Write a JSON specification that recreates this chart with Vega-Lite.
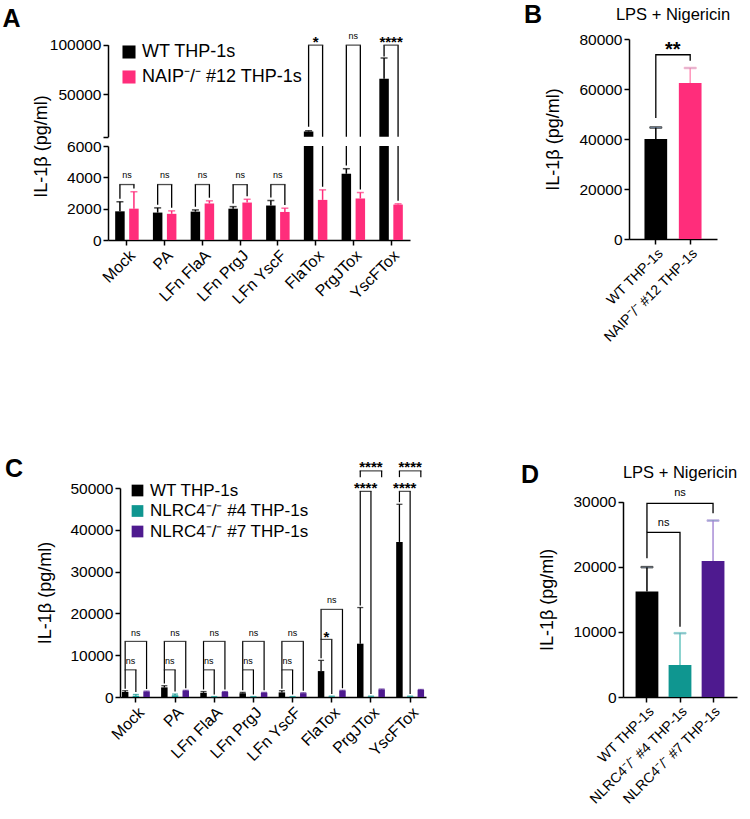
{
  "$schema": "https://vega.github.io/schema/vega-lite/v6.json",
  "background": "white",
  "padding": {"left": 2, "top": 2, "right": 0, "bottom": 0},
  "align": "none",
  "resolve": {"scale": {"color": "independent", "stroke": "independent"}, "legend": {"color": "independent"}},
  "config": {
    "font": "Liberation Sans",
    "view": {"stroke": null},
    "axis": {"domainColor": "#000", "domainWidth": 1.5, "tickColor": "#000", "tickWidth": 1.5, "tickSize": 5, "labelColor": "#000", "labelFontSize": 15.5, "titleColor": "#000", "titleFontSize": 18, "titleFontWeight": "normal", "grid": false, "labelPadding": 2},
    "axisY": {"format": "d"},
    "axisX": {"labelFontSize": 16, "labelAngle": -45, "title": null},
    "legend": {"labelColor": "#000", "symbolType": "square", "title": null, "symbolStrokeWidth": 0, "labelLimit": 400},
    "title": {"color": "#000"}
  },
  "datasets": {
    "a": [
      {"cat": "Mock", "grp": "WT", "mean": 1830, "hi": 2440},
      {"cat": "Mock", "grp": "NAIP", "mean": 2000, "hi": 3080},
      {"cat": "PA", "grp": "WT", "mean": 1750, "hi": 2050},
      {"cat": "PA", "grp": "NAIP", "mean": 1670, "hi": 1860},
      {"cat": "LFn FlaA", "grp": "WT", "mean": 1810, "hi": 1920},
      {"cat": "LFn FlaA", "grp": "NAIP", "mean": 2330, "hi": 2500},
      {"cat": "LFn PrgJ", "grp": "WT", "mean": 2000, "hi": 2130},
      {"cat": "LFn PrgJ", "grp": "NAIP", "mean": 2390, "hi": 2600},
      {"cat": "LFn YscF", "grp": "WT", "mean": 2200, "hi": 2520},
      {"cat": "LFn YscF", "grp": "NAIP", "mean": 1790, "hi": 2030},
      {"cat": "FlaTox", "grp": "WT", "mean": 12200, "hi": 13000},
      {"cat": "FlaTox", "grp": "NAIP", "mean": 2560, "hi": 3200},
      {"cat": "PrgJTox", "grp": "WT", "mean": 4230, "hi": 4550},
      {"cat": "PrgJTox", "grp": "NAIP", "mean": 2650, "hi": 3030},
      {"cat": "YscFTox", "grp": "WT", "mean": 65500, "hi": 86500},
      {"cat": "YscFTox", "grp": "NAIP", "mean": 2260, "hi": 2310}
    ],
    "ab": [
      {"cat": "Mock", "top": 3540, "left": 2640, "right": 3280},
      {"cat": "PA", "top": 3540, "left": 2250, "right": 2060},
      {"cat": "LFn FlaA", "top": 3540, "left": 2120, "right": 2700},
      {"cat": "LFn PrgJ", "top": 3540, "left": 2330, "right": 2800},
      {"cat": "LFn YscF", "top": 3540, "left": 2720, "right": 2230},
      {"cat": "FlaTox", "top": 99500, "left": 17000, "right": 3400},
      {"cat": "PrgJTox", "top": 99500, "left": 4750, "right": 3230},
      {"cat": "YscFTox", "top": 99500, "left": 88100, "right": 2510}
    ],
    "at": [
      {"cat": "Mock", "y": 3930, "label": "ns"},
      {"cat": "PA", "y": 3930, "label": "ns"},
      {"cat": "LFn FlaA", "y": 3930, "label": "ns"},
      {"cat": "LFn PrgJ", "y": 3930, "label": "ns"},
      {"cat": "LFn YscF", "y": 3930, "label": "ns"},
      {"cat": "FlaTox", "y": 98000, "label": "*"},
      {"cat": "PrgJTox", "y": 106100, "label": "ns"},
      {"cat": "YscFTox", "y": 98000, "label": "****"}
    ],
    "b": [
      {"grp": "WT", "mean": 40000, "hi": 44600},
      {"grp": "NAIP", "mean": 62400, "hi": 68400}
    ],
    "bb": [
      {"k": 1, "grp": "WT", "y": 48400}, {"k": 2, "grp": "WT", "y": 73700}, {"k": 3, "grp": "NAIP", "y": 73700}, {"k": 4, "grp": "NAIP", "y": 71300}
    ],
    "bt": [{"grp": "WT", "y": 73080, "label": "**"}],
    "c": [
      {"cat": "Mock", "grp": "WT", "mean": 1200, "hi": 1500}, {"cat": "Mock", "grp": "KO4", "mean": 300, "hi": 600}, {"cat": "Mock", "grp": "KO7", "mean": 1300, "hi": 1400},
      {"cat": "PA", "grp": "WT", "mean": 2300, "hi": 2700}, {"cat": "PA", "grp": "KO4", "mean": 400, "hi": 700}, {"cat": "PA", "grp": "KO7", "mean": 1500, "hi": 1600},
      {"cat": "LFn FlaA", "grp": "WT", "mean": 1000, "hi": 1300}, {"cat": "LFn FlaA", "grp": "KO4", "mean": 50, "hi": 100}, {"cat": "LFn FlaA", "grp": "KO7", "mean": 1200, "hi": 1300},
      {"cat": "LFn PrgJ", "grp": "WT", "mean": 900, "hi": 1100}, {"cat": "LFn PrgJ", "grp": "KO4", "mean": 50, "hi": 100}, {"cat": "LFn PrgJ", "grp": "KO7", "mean": 1000, "hi": 1100},
      {"cat": "LFn YscF", "grp": "WT", "mean": 1100, "hi": 1500}, {"cat": "LFn YscF", "grp": "KO4", "mean": 50, "hi": 100}, {"cat": "LFn YscF", "grp": "KO7", "mean": 900, "hi": 1000},
      {"cat": "FlaTox", "grp": "WT", "mean": 6200, "hi": 8760}, {"cat": "FlaTox", "grp": "KO4", "mean": 100, "hi": 200}, {"cat": "FlaTox", "grp": "KO7", "mean": 1500, "hi": 1600},
      {"cat": "PrgJTox", "grp": "WT", "mean": 12750, "hi": 21400}, {"cat": "PrgJTox", "grp": "KO4", "mean": 100, "hi": 200}, {"cat": "PrgJTox", "grp": "KO7", "mean": 1800, "hi": 1900},
      {"cat": "YscFTox", "grp": "WT", "mean": 37100, "hi": 46100}, {"cat": "YscFTox", "grp": "KO4", "mean": 100, "hi": 200}, {"cat": "YscFTox", "grp": "KO7", "mean": 1700, "hi": 1800}
    ],
    "cb": [
      {"cat": "Mock", "cmp": "4", "top": 6500, "left": 2000, "right": 1200},
      {"cat": "PA", "cmp": "4", "top": 6500, "left": 3200, "right": 1300},
      {"cat": "LFn FlaA", "cmp": "4", "top": 6500, "left": 1800, "right": 600},
      {"cat": "LFn PrgJ", "cmp": "4", "top": 6500, "left": 1600, "right": 600},
      {"cat": "LFn YscF", "cmp": "4", "top": 6500, "left": 2000, "right": 600},
      {"cat": "FlaTox", "cmp": "4", "top": 13780, "left": 9260, "right": 700},
      {"cat": "PrgJTox", "cmp": "4", "top": 49200, "left": 21900, "right": 700},
      {"cat": "YscFTox", "cmp": "4", "top": 49200, "left": 46600, "right": 700},
      {"cat": "Mock", "cmp": "7", "top": 13300, "left": 6500, "right": 1900},
      {"cat": "PA", "cmp": "7", "top": 13300, "left": 6500, "right": 2100},
      {"cat": "LFn FlaA", "cmp": "7", "top": 13300, "left": 6500, "right": 1800},
      {"cat": "LFn PrgJ", "cmp": "7", "top": 13300, "left": 6500, "right": 1600},
      {"cat": "LFn YscF", "cmp": "7", "top": 13300, "left": 6500, "right": 1500},
      {"cat": "FlaTox", "cmp": "7", "top": 20960, "left": 13780, "right": 2100},
      {"cat": "PrgJTox", "cmp": "7", "top": 54100, "left": 52600, "right": 52600},
      {"cat": "YscFTox", "cmp": "7", "top": 54100, "left": 52600, "right": 52600}
    ],
    "ct": [
      {"cat": "Mock", "cmp": "4", "y": 7820, "label": "ns"}, {"cat": "Mock", "cmp": "7", "y": 14590, "label": "ns"},
      {"cat": "PA", "cmp": "4", "y": 7820, "label": "ns"}, {"cat": "PA", "cmp": "7", "y": 14590, "label": "ns"},
      {"cat": "LFn FlaA", "cmp": "4", "y": 7820, "label": "ns"}, {"cat": "LFn FlaA", "cmp": "7", "y": 14590, "label": "ns"},
      {"cat": "LFn PrgJ", "cmp": "4", "y": 7820, "label": "ns"}, {"cat": "LFn PrgJ", "cmp": "7", "y": 14590, "label": "ns"},
      {"cat": "LFn YscF", "cmp": "4", "y": 7820, "label": "ns"}, {"cat": "LFn YscF", "cmp": "7", "y": 14590, "label": "ns"},
      {"cat": "FlaTox", "cmp": "4", "y": 13060, "label": "*"}, {"cat": "FlaTox", "cmp": "7", "y": 22420, "label": "ns"},
      {"cat": "PrgJTox", "cmp": "4", "y": 48780, "label": "****"}, {"cat": "PrgJTox", "cmp": "7", "y": 53730, "label": "****"},
      {"cat": "YscFTox", "cmp": "4", "y": 48780, "label": "****"}, {"cat": "YscFTox", "cmp": "7", "y": 53730, "label": "****"}
    ],
    "d": [
      {"grp": "WT", "mean": 16200, "hi": 19950},
      {"grp": "KO4", "mean": 4900, "hi": 9800},
      {"grp": "KO7", "mean": 20900, "hi": 27100}
    ],
    "db": [
      {"id": "o", "k": 1, "grp": "WT", "y": 25300}, {"id": "o", "k": 2, "grp": "WT", "y": 29750}, {"id": "o", "k": 3, "grp": "KO7", "y": 29750}, {"id": "o", "k": 4, "grp": "KO7", "y": 28220},
      {"id": "i", "k": 1, "grp": "WT", "y": 21300}, {"id": "i", "k": 2, "grp": "WT", "y": 25300}, {"id": "i", "k": 3, "grp": "KO4", "y": 25300}, {"id": "i", "k": 4, "grp": "KO4", "y": 10800}
    ],
    "dt": [
      {"grp": "KO4", "cmp": "7", "y": 30840, "label": "ns"},
      {"grp": "WT", "cmp": "4", "y": 26240, "label": "ns"}
    ]
  },
  "vconcat": [
    {
      "align": "none",
      "resolve": {"scale": {"color": "independent", "stroke": "independent"}, "legend": {"color": "independent"}},
      "hconcat": [
        {
          "title": {"text": "A", "anchor": "start", "frame": "bounds", "fontSize": 25, "fontWeight": "bold", "dx": -30, "offset": 0},
          "spacing": 9,
          "bounds": "flush",
          "resolve": {"scale": {"color": "independent", "y": "independent"}, "axis": {"y": "independent"}, "legend": {"color": "independent"}},
          "vconcat": [
            {
              "width": 302,
              "height": 97.7,
              "layer": [
                {
                  "data": {"name": "a"},
                  "transform": [{"filter": "datum.grp == 'WT'"}],
                  "mark": {"type": "bar", "clip": true, "width": 9.5, "xOffset": -7},
                  "encoding": {
                    "x": {"field": "cat", "type": "nominal", "scale": {"domain": ["Mock", "PA", "LFn FlaA", "LFn PrgJ", "LFn YscF", "FlaTox", "PrgJTox", "YscFTox"], "paddingInner": 0.377, "paddingOuter": 0.19}, "axis": null},
                    "y": {"field": "mean", "type": "quantitative", "scale": {"domain": [7000, 100000], "nice": false, "zero": false, "range": [97.7, 5.7]}, "axis": {"values": [7000, 50000, 100000], "labelExpr": "datum.value == 7000 ? '' : datum.value", "title": null, "labelOverlap": false}},
                    "color": {"field": "grp", "type": "nominal", "scale": {"domain": ["WT", "NAIP"], "range": ["#000000", "#ff2d7b"]}, "legend": {"orient": "none", "legendX": 12, "legendY": 4, "symbolSize": 170, "labelFontSize": 18, "rowPadding": 7, "labelExpr": "datum.label == 'WT' ? 'WT THP-1s' : 'NAIP⁻/⁻ #12 THP-1s'"}}
                  }
                },
                {
                  "data": {"name": "a"},
                  "transform": [{"filter": "datum.grp == 'NAIP'"}],
                  "mark": {"type": "bar", "clip": true, "width": 9.5, "xOffset": 7},
                  "encoding": {
                    "x": {"field": "cat", "type": "nominal"},
                    "y": {"field": "mean", "type": "quantitative"},
                    "color": {"field": "grp", "type": "nominal"}
                  }
                },
                {
                  "data": {"name": "a"},
                  "transform": [{"filter": "datum.grp == 'WT'"}],
                  "mark": {"type": "rule", "clip": true, "strokeWidth": 1.5, "color": "#000", "xOffset": -7},
                  "encoding": {"x": {"field": "cat", "type": "nominal"}, "y": {"field": "mean", "type": "quantitative"}, "y2": {"field": "hi"}}
                },
                {
                  "data": {"name": "a"},
                  "transform": [{"filter": "datum.grp == 'NAIP'"}],
                  "mark": {"type": "rule", "clip": true, "strokeWidth": 1.5, "color": "#ff2d7b", "xOffset": 7},
                  "encoding": {"x": {"field": "cat", "type": "nominal"}, "y": {"field": "mean", "type": "quantitative"}, "y2": {"field": "hi"}}
                },
                {
                  "data": {"name": "a"},
                  "transform": [{"filter": "datum.grp == 'WT'"}],
                  "mark": {"type": "tick", "clip": true, "size": 7, "thickness": 1.5, "color": "#000", "xOffset": -7},
                  "encoding": {"x": {"field": "cat", "type": "nominal"}, "y": {"field": "hi", "type": "quantitative"}}
                },
                {
                  "data": {"name": "a"},
                  "transform": [{"filter": "datum.grp == 'NAIP'"}],
                  "mark": {"type": "tick", "clip": true, "size": 7, "thickness": 1.5, "color": "#ff2d7b", "xOffset": 7},
                  "encoding": {"x": {"field": "cat", "type": "nominal"}, "y": {"field": "hi", "type": "quantitative"}}
                },
                {
                  "data": {"name": "ab"},
                  "mark": {"type": "rule", "clip": true, "strokeWidth": 1.3, "color": "#000", "xOffset": -7},
                  "encoding": {"x": {"field": "cat", "type": "nominal"}, "y": {"field": "left", "type": "quantitative"}, "y2": {"field": "top"}}
                },
                {
                  "data": {"name": "ab"},
                  "mark": {"type": "rule", "clip": true, "strokeWidth": 1.3, "color": "#000", "xOffset": 7},
                  "encoding": {"x": {"field": "cat", "type": "nominal"}, "y": {"field": "right", "type": "quantitative"}, "y2": {"field": "top"}}
                },
                {
                  "data": {"name": "ab"},
                  "mark": {"type": "tick", "clip": true, "size": 15.3, "thickness": 1.3, "color": "#000"},
                  "encoding": {"x": {"field": "cat", "type": "nominal"}, "y": {"field": "top", "type": "quantitative"}}
                },
                {
                  "data": {"name": "at"},
                  "transform": [{"filter": "datum.y > 7000 && datum.label == 'ns'"}],
                  "mark": {"type": "text", "fontSize": 9, "baseline": "alphabetic", "color": "#000"},
                  "encoding": {"x": {"field": "cat", "type": "nominal"}, "y": {"field": "y", "type": "quantitative"}, "text": {"field": "label"}}
                },
                {
                  "data": {"name": "at"},
                  "transform": [{"filter": "datum.y > 7000 && datum.label != 'ns'"}],
                  "mark": {"type": "text", "fontSize": 15, "fontWeight": "bold", "baseline": "alphabetic", "color": "#000"},
                  "encoding": {"x": {"field": "cat", "type": "nominal"}, "y": {"field": "y", "type": "quantitative"}, "text": {"field": "label"}}
                }
              ]
            },
            {
              "width": 302,
              "height": 94,
              "layer": [
                {
                  "data": {"name": "a"},
                  "transform": [{"filter": "datum.grp == 'WT'"}],
                  "mark": {"type": "bar", "clip": true, "width": 9.5, "xOffset": -7},
                  "encoding": {
                    "x": {"field": "cat", "type": "nominal", "scale": {"domain": ["Mock", "PA", "LFn FlaA", "LFn PrgJ", "LFn YscF", "FlaTox", "PrgJTox", "YscFTox"], "paddingInner": 0.377, "paddingOuter": 0.19}, "axis": {"labelAngle": -45, "title": null}},
                    "y": {"field": "mean", "type": "quantitative", "scale": {"domain": [0, 6000], "nice": false}, "axis": {"tickCount": 4, "labelOverlap": false, "labelFlush": false, "title": "IL-1β (pg/ml)", "titleAnchor": "end", "titleAlign": "center", "titlePadding": 16}},
                    "color": {"field": "grp", "type": "nominal", "scale": {"domain": ["WT", "NAIP"], "range": ["#000000", "#ff2d7b"]}, "legend": null}
                  }
                },
                {
                  "data": {"name": "a"},
                  "transform": [{"filter": "datum.grp == 'NAIP'"}],
                  "mark": {"type": "bar", "clip": true, "width": 9.5, "xOffset": 7},
                  "encoding": {
                    "x": {"field": "cat", "type": "nominal"},
                    "y": {"field": "mean", "type": "quantitative"},
                    "color": {"field": "grp", "type": "nominal", "legend": null}
                  }
                },
                {
                  "data": {"name": "a"},
                  "transform": [{"filter": "datum.grp == 'WT'"}],
                  "mark": {"type": "rule", "clip": true, "strokeWidth": 1.5, "color": "#000", "xOffset": -7},
                  "encoding": {"x": {"field": "cat", "type": "nominal"}, "y": {"field": "mean", "type": "quantitative"}, "y2": {"field": "hi"}}
                },
                {
                  "data": {"name": "a"},
                  "transform": [{"filter": "datum.grp == 'NAIP'"}],
                  "mark": {"type": "rule", "clip": true, "strokeWidth": 1.5, "color": "#ff2d7b", "xOffset": 7},
                  "encoding": {"x": {"field": "cat", "type": "nominal"}, "y": {"field": "mean", "type": "quantitative"}, "y2": {"field": "hi"}}
                },
                {
                  "data": {"name": "a"},
                  "transform": [{"filter": "datum.grp == 'WT'"}],
                  "mark": {"type": "tick", "clip": true, "size": 7, "thickness": 1.5, "color": "#000", "xOffset": -7},
                  "encoding": {"x": {"field": "cat", "type": "nominal"}, "y": {"field": "hi", "type": "quantitative"}}
                },
                {
                  "data": {"name": "a"},
                  "transform": [{"filter": "datum.grp == 'NAIP'"}],
                  "mark": {"type": "tick", "clip": true, "size": 7, "thickness": 1.5, "color": "#ff2d7b", "xOffset": 7},
                  "encoding": {"x": {"field": "cat", "type": "nominal"}, "y": {"field": "hi", "type": "quantitative"}}
                },
                {
                  "data": {"name": "ab"},
                  "mark": {"type": "rule", "clip": true, "strokeWidth": 1.3, "color": "#000", "xOffset": -7},
                  "encoding": {"x": {"field": "cat", "type": "nominal"}, "y": {"field": "left", "type": "quantitative"}, "y2": {"field": "top"}}
                },
                {
                  "data": {"name": "ab"},
                  "mark": {"type": "rule", "clip": true, "strokeWidth": 1.3, "color": "#000", "xOffset": 7},
                  "encoding": {"x": {"field": "cat", "type": "nominal"}, "y": {"field": "right", "type": "quantitative"}, "y2": {"field": "top"}}
                },
                {
                  "data": {"name": "ab"},
                  "mark": {"type": "tick", "clip": true, "size": 15.3, "thickness": 1.3, "color": "#000"},
                  "encoding": {"x": {"field": "cat", "type": "nominal"}, "y": {"field": "top", "type": "quantitative"}}
                },
                {
                  "data": {"name": "at"},
                  "transform": [{"filter": "datum.y < 7000"}],
                  "mark": {"type": "text", "fontSize": 9, "baseline": "alphabetic", "color": "#000"},
                  "encoding": {"x": {"field": "cat", "type": "nominal"}, "y": {"field": "y", "type": "quantitative"}, "text": {"field": "label"}}
                }
              ]
            }
          ]
        },
        {
          "title": {"text": "B", "anchor": "start", "frame": "bounds", "fontSize": 25, "fontWeight": "bold", "dx": -21, "offset": -21},
          "vconcat": [
            {
              "title": {"text": "LPS + Nigericin", "anchor": "middle", "frame": "group", "fontSize": 16.5, "fontWeight": "normal", "offset": 9},
              "width": 88,
              "height": 200,
              "layer": [
                {
                  "data": {"name": "b"},
                  "mark": {"type": "bar"},
                  "encoding": {
                    "x": {"field": "grp", "type": "nominal", "scale": {"domain": ["WT", "NAIP"], "paddingInner": 0.34, "paddingOuter": 0.45}, "axis": {"labelAngle": -45, "title": null, "labelFontSize": 14, "labelExpr": "datum.value == 'WT' ? 'WT THP-1s' : 'NAIP⁻/⁻ #12 THP-1s'"}},
                    "y": {"field": "mean", "type": "quantitative", "scale": {"domain": [0, 80000], "nice": false}, "axis": {"values": [0, 20000, 40000, 60000, 80000], "title": "IL-1β (pg/ml)", "titlePadding": 16}},
                    "color": {"field": "grp", "type": "nominal", "scale": {"domain": ["WT", "NAIP"], "range": ["#000000", "#ff2d7b"]}, "legend": null}
                  }
                },
                {
                  "data": {"name": "b"},
                  "mark": {"type": "rule", "strokeWidth": 1.5},
                  "encoding": {
                    "x": {"field": "grp", "type": "nominal"},
                    "y": {"field": "mean", "type": "quantitative"},
                    "y2": {"field": "hi"},
                    "stroke": {"field": "grp", "type": "nominal", "scale": {"domain": ["WT", "NAIP"], "range": ["#000000", "#ff94ba"]}, "legend": null}
                  }
                },
                {
                  "data": {"name": "b"},
                  "mark": {"type": "tick", "size": 12, "thickness": 1.5},
                  "encoding": {
                    "x": {"field": "grp", "type": "nominal"},
                    "y": {"field": "hi", "type": "quantitative"},
                    "stroke": {"field": "grp", "type": "nominal", "legend": null}
                  }
                },
                {
                  "data": {"name": "bb"},
                  "mark": {"type": "line", "color": "#000", "strokeWidth": 1.3},
                  "encoding": {
                    "x": {"field": "grp", "type": "nominal"},
                    "y": {"field": "y", "type": "quantitative"},
                    "order": {"field": "k"}
                  }
                },
                {
                  "data": {"name": "bt"},
                  "mark": {"type": "text", "fontSize": 20, "fontWeight": "bold", "baseline": "alphabetic", "dx": 17, "color": "#000"},
                  "encoding": {"x": {"field": "grp", "type": "nominal"}, "y": {"field": "y", "type": "quantitative"}, "text": {"field": "label"}}
                }
              ]
            }
          ]
        }
      ],
      "spacing": 113
    },
    {
      "align": "none",
      "resolve": {"scale": {"color": "independent", "stroke": "independent"}, "legend": {"color": "independent"}},
      "hconcat": [
        {
          "title": {"text": "C", "anchor": "start", "frame": "bounds", "fontSize": 25, "fontWeight": "bold", "dx": -32, "offset": -22},
          "width": 318,
          "height": 209,
          "layer": [
            {
              "data": {"name": "c"},
              "transform": [{"filter": "datum.grp == 'WT'"}],
              "mark": {"type": "bar", "width": 6.5, "xOffset": -10.7},
              "encoding": {
                "x": {"field": "cat", "type": "nominal", "scale": {"domain": ["Mock", "PA", "LFn FlaA", "LFn PrgJ", "LFn YscF", "FlaTox", "PrgJTox", "YscFTox"], "range": [12, 318], "paddingInner": 0.29, "paddingOuter": 0.05}, "axis": {"labelAngle": -45, "title": null}},
                "y": {"field": "mean", "type": "quantitative", "scale": {"domain": [0, 50000], "nice": false}, "axis": {"values": [0, 10000, 20000, 30000, 40000, 50000], "title": "IL-1β (pg/ml)", "titlePadding": 15, "offset": -12}},
                "color": {"field": "grp", "type": "nominal", "scale": {"domain": ["WT", "KO4", "KO7"], "range": ["#000000", "#0f9690", "#4e1a8f"]}, "legend": {"orient": "none", "legendX": 21, "legendY": -6, "symbolSize": 137, "labelFontSize": 17, "rowPadding": 2.5, "labelExpr": "datum.label == 'WT' ? 'WT THP-1s' : (datum.label == 'KO4' ? 'NLRC4⁻/⁻ #4 THP-1s' : 'NLRC4⁻/⁻ #7 THP-1s')"}}
              }
            },
            {
              "data": {"name": "c"},
              "transform": [{"filter": "datum.grp == 'KO4'"}],
              "mark": {"type": "bar", "width": 6.5},
              "encoding": {"x": {"field": "cat", "type": "nominal"}, "y": {"field": "mean", "type": "quantitative"}, "color": {"field": "grp", "type": "nominal"}}
            },
            {
              "data": {"name": "c"},
              "transform": [{"filter": "datum.grp == 'KO7'"}],
              "mark": {"type": "bar", "width": 6.5, "xOffset": 10.7},
              "encoding": {"x": {"field": "cat", "type": "nominal"}, "y": {"field": "mean", "type": "quantitative"}, "color": {"field": "grp", "type": "nominal"}}
            },
            {
              "data": {"name": "c"},
              "transform": [{"filter": "datum.grp == 'WT'"}],
              "mark": {"type": "rule", "strokeWidth": 1.3, "color": "#000", "xOffset": -10.7},
              "encoding": {"x": {"field": "cat", "type": "nominal"}, "y": {"field": "mean", "type": "quantitative"}, "y2": {"field": "hi"}}
            },
            {
              "data": {"name": "c"},
              "transform": [{"filter": "datum.grp == 'KO4'"}],
              "mark": {"type": "rule", "strokeWidth": 1.3, "color": "#0f9690"},
              "encoding": {"x": {"field": "cat", "type": "nominal"}, "y": {"field": "mean", "type": "quantitative"}, "y2": {"field": "hi"}}
            },
            {
              "data": {"name": "c"},
              "transform": [{"filter": "datum.grp == 'KO7'"}],
              "mark": {"type": "rule", "strokeWidth": 1.3, "color": "#4e1a8f", "xOffset": 10.7},
              "encoding": {"x": {"field": "cat", "type": "nominal"}, "y": {"field": "mean", "type": "quantitative"}, "y2": {"field": "hi"}}
            },
            {
              "data": {"name": "c"},
              "transform": [{"filter": "datum.grp == 'WT'"}],
              "mark": {"type": "tick", "size": 6, "thickness": 1.3, "color": "#000", "xOffset": -10.7},
              "encoding": {"x": {"field": "cat", "type": "nominal"}, "y": {"field": "hi", "type": "quantitative"}}
            },
            {
              "data": {"name": "c"},
              "transform": [{"filter": "datum.grp == 'KO4'"}],
              "mark": {"type": "tick", "size": 6, "thickness": 1.3, "color": "#0f9690"},
              "encoding": {"x": {"field": "cat", "type": "nominal"}, "y": {"field": "hi", "type": "quantitative"}}
            },
            {
              "data": {"name": "c"},
              "transform": [{"filter": "datum.grp == 'KO7'"}],
              "mark": {"type": "tick", "size": 6, "thickness": 1.3, "color": "#4e1a8f", "xOffset": 10.7},
              "encoding": {"x": {"field": "cat", "type": "nominal"}, "y": {"field": "hi", "type": "quantitative"}}
            },
            {
              "data": {"name": "cb"},
              "mark": {"type": "rule", "strokeWidth": 1.2, "color": "#000", "xOffset": -10.7},
              "encoding": {"x": {"field": "cat", "type": "nominal"}, "y": {"field": "left", "type": "quantitative"}, "y2": {"field": "top"}}
            },
            {
              "data": {"name": "cb"},
              "transform": [{"filter": "datum.cmp == '4'"}],
              "mark": {"type": "rule", "strokeWidth": 1.2, "color": "#000"},
              "encoding": {"x": {"field": "cat", "type": "nominal"}, "y": {"field": "right", "type": "quantitative"}, "y2": {"field": "top"}}
            },
            {
              "data": {"name": "cb"},
              "transform": [{"filter": "datum.cmp == '7'"}],
              "mark": {"type": "rule", "strokeWidth": 1.2, "color": "#000", "xOffset": 10.7},
              "encoding": {"x": {"field": "cat", "type": "nominal"}, "y": {"field": "right", "type": "quantitative"}, "y2": {"field": "top"}}
            },
            {
              "data": {"name": "cb"},
              "transform": [{"filter": "datum.cmp == '4'"}],
              "mark": {"type": "tick", "size": 11.9, "thickness": 1.2, "color": "#000", "xOffset": -5.35},
              "encoding": {"x": {"field": "cat", "type": "nominal"}, "y": {"field": "top", "type": "quantitative"}}
            },
            {
              "data": {"name": "cb"},
              "transform": [{"filter": "datum.cmp == '7'"}],
              "mark": {"type": "tick", "size": 22.6, "thickness": 1.2, "color": "#000"},
              "encoding": {"x": {"field": "cat", "type": "nominal"}, "y": {"field": "top", "type": "quantitative"}}
            },
            {
              "data": {"name": "ct"},
              "transform": [{"filter": "datum.label == 'ns' && datum.cmp == '4'"}],
              "mark": {"type": "text", "fontSize": 9, "baseline": "alphabetic", "dx": -5.4, "color": "#000"},
              "encoding": {"x": {"field": "cat", "type": "nominal"}, "y": {"field": "y", "type": "quantitative"}, "text": {"field": "label"}}
            },
            {
              "data": {"name": "ct"},
              "transform": [{"filter": "datum.label == 'ns' && datum.cmp == '7'"}],
              "mark": {"type": "text", "fontSize": 9, "baseline": "alphabetic", "color": "#000"},
              "encoding": {"x": {"field": "cat", "type": "nominal"}, "y": {"field": "y", "type": "quantitative"}, "text": {"field": "label"}}
            },
            {
              "data": {"name": "ct"},
              "transform": [{"filter": "datum.label != 'ns' && datum.cmp == '4'"}],
              "mark": {"type": "text", "fontSize": 15, "fontWeight": "bold", "baseline": "alphabetic", "dx": -5.4, "color": "#000"},
              "encoding": {"x": {"field": "cat", "type": "nominal"}, "y": {"field": "y", "type": "quantitative"}, "text": {"field": "label"}}
            },
            {
              "data": {"name": "ct"},
              "transform": [{"filter": "datum.label != 'ns' && datum.cmp == '7'"}],
              "mark": {"type": "text", "fontSize": 15, "fontWeight": "bold", "baseline": "alphabetic", "color": "#000"},
              "encoding": {"x": {"field": "cat", "type": "nominal"}, "y": {"field": "y", "type": "quantitative"}, "text": {"field": "label"}}
            }
          ]
        },
        {
          "title": {"text": "D", "anchor": "start", "frame": "bounds", "fontSize": 25, "fontWeight": "bold", "dx": -18, "offset": -23},
          "vconcat": [
            {
              "title": {"text": "LPS + Nigericin", "anchor": "middle", "frame": "group", "fontSize": 16.5, "fontWeight": "normal", "offset": 6},
              "width": 114,
              "height": 209,
              "layer": [
                {
                  "data": {"name": "d"},
                  "mark": {"type": "bar"},
                  "encoding": {
                    "x": {"field": "grp", "type": "nominal", "scale": {"domain": ["WT", "KO4", "KO7"], "paddingInner": 0.31, "paddingOuter": 0.38}, "axis": {"labelAngle": -45, "title": null, "labelFontSize": 14, "labelExpr": "datum.value == 'WT' ? 'WT THP-1s' : (datum.value == 'KO4' ? 'NLRC4⁻/⁻ #4 THP-1s' : 'NLRC4⁻/⁻ #7 THP-1s')"}},
                    "y": {"field": "mean", "type": "quantitative", "scale": {"domain": [0, 30000], "nice": false, "range": [209, 13.7]}, "axis": {"values": [0, 10000, 20000, 30000], "title": "IL-1β (pg/ml)", "titlePadding": 16}},
                    "color": {"field": "grp", "type": "nominal", "scale": {"domain": ["WT", "KO4", "KO7"], "range": ["#000000", "#0f9690", "#4e1a8f"]}, "legend": null}
                  }
                },
                {
                  "data": {"name": "d"},
                  "mark": {"type": "rule", "strokeWidth": 1.5},
                  "encoding": {
                    "x": {"field": "grp", "type": "nominal"},
                    "y": {"field": "mean", "type": "quantitative"},
                    "y2": {"field": "hi"},
                    "stroke": {"field": "grp", "type": "nominal", "scale": {"domain": ["WT", "KO4", "KO7"], "range": ["#000000", "#66c4bf", "#a88cd6"]}, "legend": null}
                  }
                },
                {
                  "data": {"name": "d"},
                  "mark": {"type": "tick", "size": 12, "thickness": 1.5},
                  "encoding": {
                    "x": {"field": "grp", "type": "nominal"},
                    "y": {"field": "hi", "type": "quantitative"},
                    "stroke": {"field": "grp", "type": "nominal", "legend": null}
                  }
                },
                {
                  "data": {"name": "db"},
                  "mark": {"type": "line", "color": "#000", "strokeWidth": 1.3},
                  "encoding": {
                    "x": {"field": "grp", "type": "nominal"},
                    "y": {"field": "y", "type": "quantitative"},
                    "detail": {"field": "id"},
                    "order": {"field": "k"}
                  }
                },
                {
                  "data": {"name": "dt"},
                  "transform": [{"filter": "datum.cmp == '7'"}],
                  "mark": {"type": "text", "fontSize": 11, "baseline": "alphabetic", "color": "#000"},
                  "encoding": {"x": {"field": "grp", "type": "nominal"}, "y": {"field": "y", "type": "quantitative"}, "text": {"field": "label"}}
                },
                {
                  "data": {"name": "dt"},
                  "transform": [{"filter": "datum.cmp == '4'"}],
                  "mark": {"type": "text", "fontSize": 11, "baseline": "alphabetic", "dx": 16.7, "color": "#000"},
                  "encoding": {"x": {"field": "grp", "type": "nominal"}, "y": {"field": "y", "type": "quantitative"}, "text": {"field": "label"}}
                }
              ]
            }
          ]
        }
      ],
      "spacing": 94
    }
  ],
  "spacing": 112
}
